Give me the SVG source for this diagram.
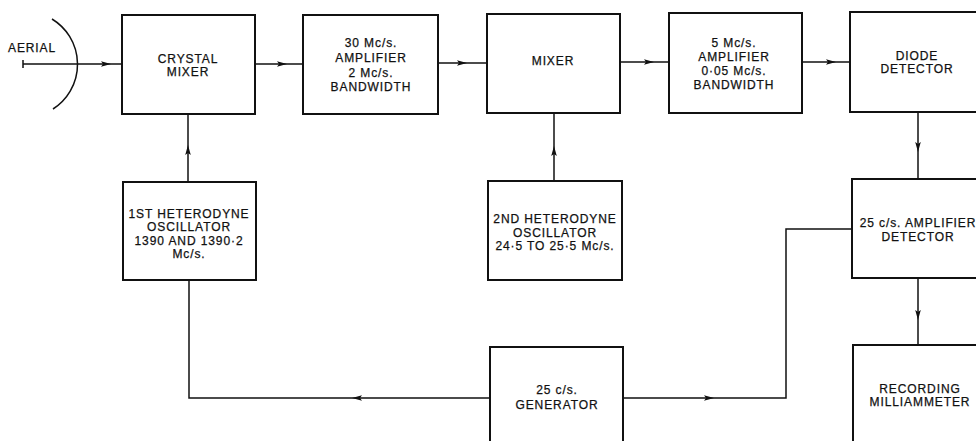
<svg xmlns="http://www.w3.org/2000/svg" xmlns:xlink="http://www.w3.org/1999/xlink" width="976" height="441" viewBox="0 0 976 441">
<style>
.box{fill:#fff;stroke:#111;stroke-width:2}
.ln{fill:none;stroke:#111;stroke-width:1.5}
text{font-family:"Liberation Sans",Arial,sans-serif;font-size:12px;letter-spacing:0.9px;fill:#111;stroke:#111;stroke-width:0.25;text-anchor:middle}
.ah{fill:#111}
</style>
<defs>
<path id="ah" d="M0,0 L-10,-2.8 L-8,0 L-10,2.8 Z"/>
</defs>
<rect width="976" height="441" fill="#fff"/>
<g id="connectors">
<path class="ln" d="M23,60 L23,68 M23,64 L122,64"/>
<path class="ln" d="M52,19 A53,53 0 0 1 53,109" stroke-width="2"/>
<path class="ln" d="M255,64 L303,64"/>
<path class="ln" d="M438,63 L487,63"/>
<path class="ln" d="M620,62 L669,62"/>
<path class="ln" d="M802,62 L850,62"/>
<path class="ln" d="M918,112 L918,179"/>
<path class="ln" d="M918,278 L918,345"/>
<path class="ln" d="M188,182 L188,114"/>
<path class="ln" d="M554,181 L554,113"/>
<path class="ln" d="M490,398 L189,398 L189,280"/>
<path class="ln" d="M623,398 L786,398 L786,229 L852,229"/>
<use href="#ah" class="ah" transform="translate(111,64)"/>
<use href="#ah" class="ah" transform="translate(287,64)"/>
<use href="#ah" class="ah" transform="translate(467,63)"/>
<use href="#ah" class="ah" transform="translate(654,62)"/>
<use href="#ah" class="ah" transform="translate(836,62)"/>
<use href="#ah" class="ah" transform="translate(918,152) rotate(90)"/>
<use href="#ah" class="ah" transform="translate(918,320) rotate(90)"/>
<use href="#ah" class="ah" transform="translate(188,145) rotate(-90)"/>
<use href="#ah" class="ah" transform="translate(554,146) rotate(-90)"/>
<use href="#ah" class="ah" transform="translate(352,398) rotate(180)"/>
<use href="#ah" class="ah" transform="translate(714,398)"/>
</g>
<g id="aerial"><text x="8" y="52" style="text-anchor:start">AERIAL</text></g>
<g id="crystal-mixer"><rect class="box" x="122" y="15" width="133" height="99"/><text x="188" y="63">CRYSTAL</text><text x="188" y="76">MIXER</text></g>
<g id="amp30"><rect class="box" x="303" y="15" width="135" height="99"/><text x="371" y="47">30 Mc/s.</text><text x="371" y="62">AMPLIFIER</text><text x="371" y="77">2 Mc/s.</text><text x="371" y="91">BANDWIDTH</text></g>
<g id="mixer"><rect class="box" x="487" y="14" width="133" height="99"/><text x="553" y="65">MIXER</text></g>
<g id="amp5"><rect class="box" x="669" y="13" width="133" height="100"/><text x="734" y="47">5 Mc/s.</text><text x="734" y="61">AMPLIFIER</text><text x="734" y="74.5">0·05 Mc/s.</text><text x="734" y="89">BANDWIDTH</text></g>
<g id="diode-detector"><rect class="box" x="850" y="12" width="135" height="100"/><text x="917" y="59.5">DIODE</text><text x="917" y="72.5">DETECTOR</text></g>
<g id="osc1"><rect class="box" x="123" y="182" width="133" height="98"/><text x="189" y="217.5">1ST HETERODYNE</text><text x="189" y="231">OSCILLATOR</text><text x="189" y="244.5">1390 AND 1390·2</text><text x="189" y="258">Mc/s.</text></g>
<g id="osc2"><rect class="box" x="488" y="181" width="134" height="99"/><text x="555" y="223">2ND HETERODYNE</text><text x="555" y="236.5">OSCILLATOR</text><text x="555" y="250">24·5 TO 25·5 Mc/s.</text></g>
<g id="amp-detector"><rect class="box" x="852" y="179" width="135" height="99"/><text x="918" y="226.5">25 c/s. AMPLIFIER</text><text x="918" y="240.5">DETECTOR</text></g>
<g id="generator"><rect class="box" x="490" y="347" width="133" height="100"/><text x="557" y="393.5">25 c/s.</text><text x="557" y="408.5">GENERATOR</text></g>
<g id="recorder"><rect class="box" x="853" y="345" width="135" height="100"/><text x="920" y="393">RECORDING</text><text x="920" y="406">MILLIAMMETER</text></g>
</svg>
